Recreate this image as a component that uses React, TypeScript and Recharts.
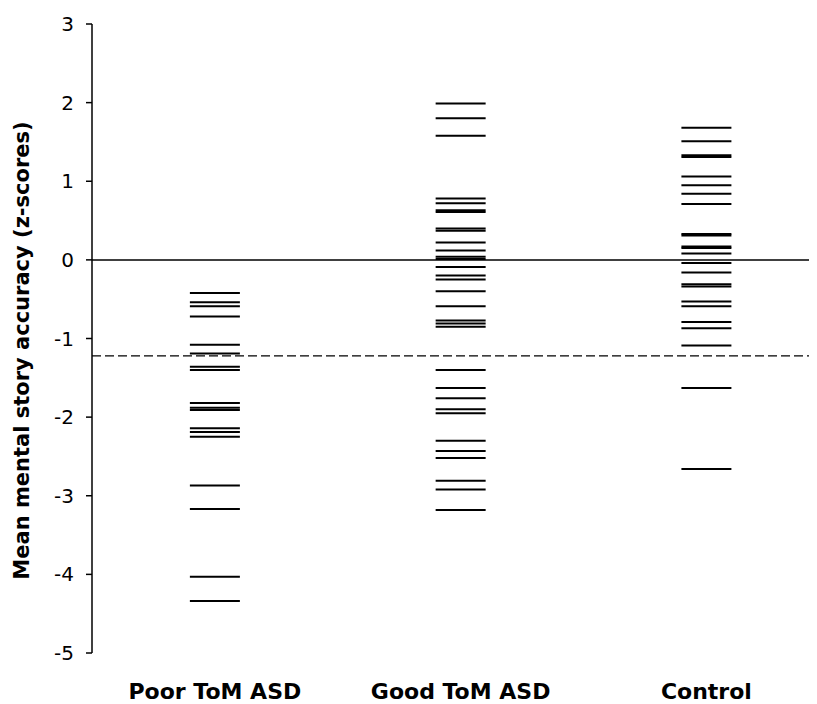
import { ScatterChart, Scatter, XAxis, YAxis, ReferenceLine, Label } from 'recharts';

const categories = ['Poor ToM ASD', 'Good ToM ASD', 'Control'];
const yTicks = [-5, -4, -3, -2, -1, 0, 1, 2, 3];

const poorToM = [
    -0.42, -0.54, -0.59, -0.72, -1.08, -1.19, -1.36, -1.4, -1.82, -1.88, -1.91,
    -2.14, -2.19, -2.25, -2.87, -3.17, -4.03, -4.34
];
const goodToM = [
    1.99, 1.8, 1.58, 0.78, 0.72, 0.63, 0.61, 0.4, 0.37, 0.22, 0.12, 0.04, 0.01,
    -0.09, -0.2, -0.25, -0.4, -0.59, -0.77, -0.81, -0.85, -1.4, -1.63, -1.76,
    -1.9, -1.95, -2.3, -2.43, -2.52, -2.81, -2.92, -3.18
];
const control = [
    1.68, 1.51, 1.33, 1.31, 1.06, 0.95, 0.84, 0.71, 0.33, 0.31, 0.17, 0.15, 0.08,
    -0.04, -0.16, -0.31, -0.34, -0.53, -0.59, -0.79, -0.87, -1.09, -1.63, -2.66
];
const cutoff = -1.22;

const groups = [poorToM, goodToM, control];

const FONT = '"DejaVu Sans", Verdana, sans-serif';

const Dash = (props: any) => {
    const { cx, cy } = props;
    return <line x1={cx - 25} x2={cx + 25} y1={cy} y2={cy} stroke="#000" strokeWidth={2} />;
};

const CategoryTick = (props: any) => {
    const { x, y, payload } = props;
    return (
        <text x={x} y={y} dy={38} textAnchor="middle" fontFamily={FONT} fontWeight="bold" fontSize={22} fill="#000">
            {categories[payload.value - 1]}
        </text>
    );
};

export default function App() {
    return (
        <ScatterChart width={809} height={696} margin={{ top: 16, right: 0, bottom: 0, left: 0 }}>
            <XAxis
                type="number"
                dataKey="x"
                domain={[0.5, 3.45]}
                ticks={[1, 2, 3]}
                axisLine={false}
                tickLine={false}
                height={51}
                tick={<CategoryTick />}
                interval={0}
            />
            <YAxis
                type="number"
                dataKey="y"
                domain={[-5, 3]}
                ticks={yTicks}
                width={84}
                axisLine={{ stroke: '#000', strokeWidth: 1.5 }}
                tickLine={{ stroke: '#000', strokeWidth: 1.5 }}
                tickSize={6}
                tick={{ fill: '#000', fontSize: 20, fontFamily: FONT }}
                tickMargin={12}
            >
                <Label
                    content={(p: any) => {
                        const vb = p.viewBox;
                        const cy = vb.y + vb.height / 2 + 12;
                        return (
                            <text
                                x={14}
                                y={cy}
                                transform={`rotate(-90 14 ${cy})`}
                                textAnchor="middle"
                                dominantBaseline="central"
                                fontFamily={FONT}
                                fontWeight="bold"
                                fontSize={21}
                                fill="#000"
                            >
                                Mean mental story accuracy (z-scores)
                            </text>
                        );
                    }}
                />
            </YAxis>
            <ReferenceLine y={0} stroke="#000" strokeWidth={1.5} />
            <ReferenceLine y={cutoff} stroke="#000" strokeWidth={1.3} strokeDasharray="9 4" />
            {groups.map((vals, i) => (
                <Scatter
                    key={categories[i]}
                    data={vals.map((y) => ({ x: i + 1, y }))}
                    shape={<Dash />}
                    isAnimationActive={false}
                />
            ))}
        </ScatterChart>
    );
}
